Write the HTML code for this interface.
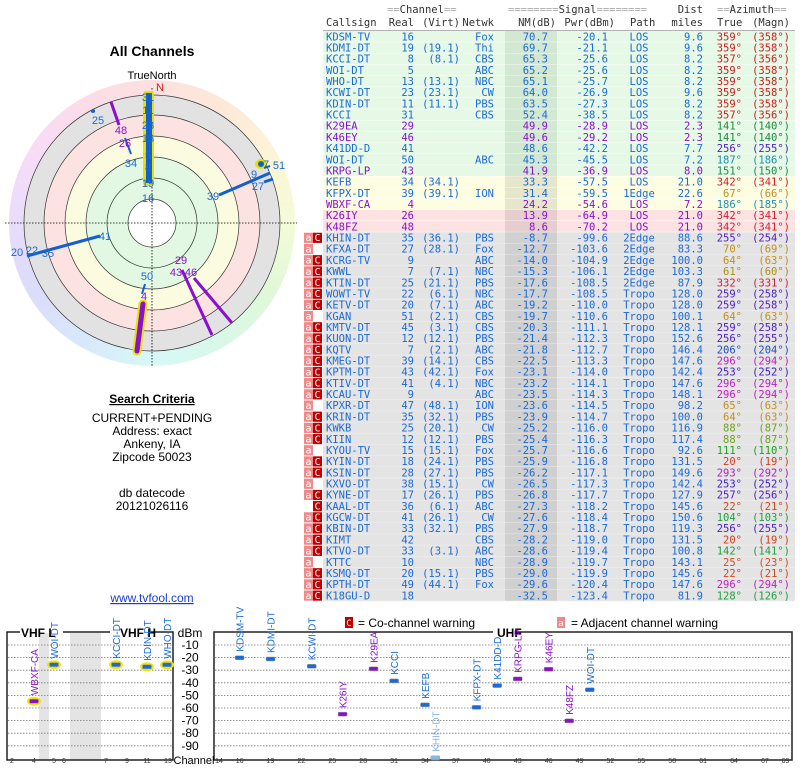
<!DOCTYPE html>
<html><head><meta charset="utf-8">
<style>
html,body{margin:0;padding:0;background:#fff;width:800px;height:768px;overflow:hidden}
#ring{position:absolute;left:9px;top:80px;width:286px;height:286px;border-radius:50%;
background:conic-gradient(#fde0e0,#fde8d8 30deg,#fdf4d8 60deg,#f4fbd8 90deg,#e0f8d8 120deg,#d8f8e8 150deg,#d8f8f8 180deg,#d8e8fb 210deg,#dcdcfb 240deg,#e8dcfb 270deg,#f8dcf8 300deg,#fcdce8 330deg,#fde0e0 360deg)}
svg{position:absolute;left:0;top:0}
</style></head><body>
<div id="ring"></div>
<svg id="s" width="800" height="768" xmlns="http://www.w3.org/2000/svg" font-family="Liberation Sans, sans-serif"></svg>
<script>
var S=[];
function t(x,y,s,o){o=o||{};S.push('<text x="'+x+'" y="'+y+'" font-size="'+(o.fs||11)+'"'+(o.a?' text-anchor="'+o.a+'"':'')+' fill="'+(o.c||'#000')+'"'+(o.fw?' font-weight="bold"':'')+(o.ff?' font-family="'+o.ff+'"':'')+(o.tr?' transform="'+o.tr+'"':'')+(o.td?' text-decoration="underline"':'')+'>'+s+'</text>');}
function r(x,y,w,h,f,ex){S.push('<rect x="'+x+'" y="'+y+'" width="'+w+'" height="'+h+'" fill="'+f+'" '+(ex||'')+'/>');}
function l(x1,y1,x2,y2,c,w,ex){S.push('<line x1="'+x1+'" y1="'+y1+'" x2="'+x2+'" y2="'+y2+'" stroke="'+c+'" stroke-width="'+(w||1)+'" '+(ex||'')+'/>');}
var M='DejaVu Sans Mono, Liberation Mono, monospace';
var B='#1a6ad8',P='#8a10d0';
var azc={359:'#c82020',357:'#c82020',141:'#208a40',256:'#5020c0',255:'#5020c0',187:'#2090b0',186:'#2090b0',151:'#208a50',342:'#d02030',67:'#c09020',70:'#c09020',64:'#c09020',61:'#b09010',65:'#c09020',332:'#d02040',259:'#5020c0',206:'#2050c0',296:'#c020c0',253:'#4020c0',88:'#70a020',111:'#20a020',20:'#d04020',293:'#b020c0',257:'#5020c0',22:'#d04a20',104:'#20a040',142:'#20a040',25:'#d05020',128:'#20a040'};
var rows=[
['KDSM-TV','16','','Fox','70.7','-20.1','LOS','9.6',359,358,0,'g'],
['KDMI-DT','19','(19.1)','Thi','69.7','-21.1','LOS','9.6',359,358,0,'g'],
['KCCI-DT','8','(8.1)','CBS','65.3','-25.6','LOS','8.2',357,356,0,'g'],
['WOI-DT','5','','ABC','65.2','-25.6','LOS','8.2',359,358,0,'g'],
['WHO-DT','13','(13.1)','NBC','65.1','-25.7','LOS','8.2',359,358,0,'g'],
['KCWI-DT','23','(23.1)','CW','64.0','-26.9','LOS','9.6',359,358,0,'g'],
['KDIN-DT','11','(11.1)','PBS','63.5','-27.3','LOS','8.2',359,358,0,'g'],
['KCCI','31','','CBS','52.4','-38.5','LOS','8.2',357,356,0,'g'],
['K29EA','29','','','49.9','-28.9','LOS','2.3',141,140,1,'g'],
['K46EY','46','','','49.6','-29.2','LOS','2.3',141,140,1,'g'],
['K41DD-D','41','','','48.6','-42.2','LOS','7.7',256,255,0,'g'],
['WOI-DT','50','','ABC','45.3','-45.5','LOS','7.2',187,186,0,'g'],
['KRPG-LP','43','','','41.9','-36.9','LOS','8.0',151,150,1,'g'],
['KEFB','34','(34.1)','','33.3','-57.5','LOS','21.0',342,341,0,'y'],
['KFPX-DT','39','(39.1)','ION','31.4','-59.5','1Edge','22.6',67,66,0,'y'],
['WBXF-CA','4','','','24.2','-54.6','LOS','7.2',186,185,1,'y'],
['K26IY','26','','','13.9','-64.9','LOS','21.0',342,341,1,'p'],
['K48FZ','48','','','8.6','-70.2','LOS','21.0',342,341,1,'p'],
['KHIN-DT','35','(36.1)','PBS','-8.7','-99.6','2Edge','88.6',255,254,0,'aC'],
['KFXA-DT','27','(28.1)','Fox','-12.7','-103.6','2Edge','83.3',70,69,0,'a'],
['KCRG-TV','9','','ABC','-14.0','-104.9','2Edge','100.0',64,63,0,'aC'],
['KWWL','7','(7.1)','NBC','-15.3','-106.1','2Edge','103.3',61,60,0,'aC'],
['KTIN-DT','25','(21.1)','PBS','-17.6','-108.5','2Edge','87.9',332,331,0,'aC'],
['WOWT-TV','22','(6.1)','NBC','-17.7','-108.5','Tropo','128.0',259,258,0,'aC'],
['KETV-DT','20','(7.1)','ABC','-19.2','-110.0','Tropo','128.0',259,258,0,'aC'],
['KGAN','51','(2.1)','CBS','-19.7','-110.6','Tropo','100.1',64,63,0,'a'],
['KMTV-DT','45','(3.1)','CBS','-20.3','-111.1','Tropo','128.1',259,258,0,'aC'],
['KUON-DT','12','(12.1)','PBS','-21.4','-112.3','Tropo','152.6',256,255,0,'aC'],
['KQTV','7','(2.1)','ABC','-21.8','-112.7','Tropo','146.4',206,204,0,'aC'],
['KMEG-DT','39','(14.1)','CBS','-22.5','-113.3','Tropo','147.6',296,294,0,'aC'],
['KPTM-DT','43','(42.1)','Fox','-23.1','-114.0','Tropo','142.4',253,252,0,'aC'],
['KTIV-DT','41','(4.1)','NBC','-23.2','-114.1','Tropo','147.6',296,294,0,'aC'],
['KCAU-TV','9','','ABC','-23.5','-114.3','Tropo','148.1',296,294,0,'aC'],
['KPXR-DT','47','(48.1)','ION','-23.6','-114.5','Tropo','98.2',65,63,0,'a'],
['KRIN-DT','35','(32.1)','PBS','-23.9','-114.7','Tropo','100.0',64,63,0,'aC'],
['KWKB','25','(20.1)','CW','-25.2','-116.0','Tropo','116.9',88,87,0,'aC'],
['KIIN','12','(12.1)','PBS','-25.4','-116.3','Tropo','117.4',88,87,0,'aC'],
['KYOU-TV','15','(15.1)','Fox','-25.7','-116.6','Tropo','92.6',111,110,0,'a'],
['KYIN-DT','18','(24.1)','PBS','-25.9','-116.8','Tropo','131.5',20,19,0,'aC'],
['KSIN-DT','28','(27.1)','PBS','-26.2','-117.1','Tropo','149.6',293,292,0,'aC'],
['KXVO-DT','38','(15.1)','CW','-26.5','-117.3','Tropo','142.4',253,252,0,'a'],
['KYNE-DT','17','(26.1)','PBS','-26.8','-117.7','Tropo','127.9',257,256,0,'aC'],
['KAAL-DT','36','(6.1)','ABC','-27.3','-118.2','Tropo','145.6',22,21,0,'C'],
['KGCW-DT','41','(26.1)','CW','-27.6','-118.4','Tropo','150.6',104,103,0,'aC'],
['KBIN-DT','33','(32.1)','PBS','-27.9','-118.7','Tropo','119.3',256,255,0,'aC'],
['KIMT','42','','CBS','-28.2','-119.0','Tropo','131.5',20,19,0,'aC'],
['KTVO-DT','33','(3.1)','ABC','-28.6','-119.4','Tropo','100.8',142,141,0,'aC'],
['KTTC','10','','NBC','-28.9','-119.7','Tropo','143.1',25,23,0,'a'],
['KSMQ-DT','20','(15.1)','PBS','-29.0','-119.9','Tropo','145.6',22,21,0,'aC'],
['KPTH-DT','49','(44.1)','Fox','-29.6','-120.4','Tropo','147.6',296,294,0,'aC'],
['K18GU-D','18','','','-32.5','-123.4','Tropo','81.9',128,126,0,'aC']];
var RH=11.18,Y0=31;
var bgs={g:['#e6f8e6','#d2e8d2'],y:['#fdfde2','#e6e6cc'],p:['#fde2e2','#e6cece']};
rows.forEach(function(d,i){
 var y=Y0+i*RH,bb=d[11],bg=bgs[bb]||['#e4e4e4','#d0d0d0'];
 r(323,y,472,RH,bg[0]); r(505,y,52,RH,bg[1]); l(323,y+RH,795,y+RH,bgs[bb]?'#fff':'#f4f4f4',0.8);
 if(!bgs[bb]){ if(bb.indexOf('a')>=0){r(304,y+0.5,9,RH-1,'#f08a8a');t(308.5,y+9,'a',{fs:10,a:'middle',c:'#fff',ff:M});}
  if(bb.indexOf('C')>=0){r(313,y+0.5,9,RH-1,'#c00000');t(317.5,y+9,'C',{fs:10,a:'middle',c:'#fff',ff:M});}}
 var c=d[10]?P:B,yb=y+9.3,o=function(a){return {fs:10.5,ff:M,c:c,a:a};};
 t(326,yb,d[0],o());t(414,yb,d[1],o('end'));t(460,yb,d[2],o('end'));t(494,yb,d[3],o('end'));
 t(548,yb,d[4],o('end'));t(608,yb,d[5],o('end'));t(639,yb,d[6],o('middle'));t(703,yb,d[7],o('end'));
 var ac=azc[d[8]]||'#c82020';
 t(742,yb,d[8]+'°',{fs:10.5,ff:M,c:ac,a:'end'});t(790,yb,'('+d[9]+'°)',{fs:10.5,ff:M,c:ac,a:'end'});
});
// header
var H={fs:10.5,ff:M,c:'#333'};
S.push('<text x="387" y="13" font-size="10.5" font-family="'+M+'" fill="#333"><tspan fill="#aaa">==</tspan>Channel<tspan fill="#aaa">==</tspan></text>');
S.push('<text x="508" y="13" font-size="10.5" font-family="'+M+'" fill="#333"><tspan fill="#aaa">========</tspan>Signal<tspan fill="#aaa">========</tspan></text>');
t(703,13,'Dist',{fs:10.5,ff:M,c:'#333',a:'end'});
S.push('<text x="717" y="13" font-size="10.5" font-family="'+M+'" fill="#333"><tspan fill="#aaa">==</tspan>Azimuth<tspan fill="#aaa">==</tspan></text>');
t(326,26,'Callsign',H);t(414,26,'Real',{fs:10.5,ff:M,c:'#333',a:'end'});t(460,26,'(Virt)',{fs:10.5,ff:M,c:'#333',a:'end'});
t(494,26,'Netwk',{fs:10.5,ff:M,c:'#333',a:'end'});t(556,26,'NM(dB)',{fs:10.5,ff:M,c:'#333',a:'end'});
t(615,26,'Pwr(dBm)',{fs:10.5,ff:M,c:'#333',a:'end'});t(630,26,'Path',H);t(703,26,'miles',{fs:10.5,ff:M,c:'#333',a:'end'});
t(717,26,'True',H);t(790,26,'(Magn)',{fs:10.5,ff:M,c:'#333',a:'end'});
l(323,30.5,795,30.5,'#999',0.8);
// left panel
t(152,56,'All Channels',{fs:14,fw:1,a:'middle'});
t(152,79,'TrueNorth',{fs:11,a:'middle'});
var cx=152,cy=223;
S.push('<circle cx="'+cx+'" cy="'+cy+'" r="128" fill="#e2e2e2"/>');
S.push('<circle cx="'+cx+'" cy="'+cy+'" r="108" fill="#fde2e2"/>');
S.push('<circle cx="'+cx+'" cy="'+cy+'" r="87" fill="#fbfbe0"/>');
S.push('<circle cx="'+cx+'" cy="'+cy+'" r="66" fill="#e2f8e2"/>');
S.push('<circle cx="'+cx+'" cy="'+cy+'" r="24" fill="#fff"/>');
[24,45,66,87,108,128].forEach(function(rr){S.push('<circle cx="'+cx+'" cy="'+cy+'" r="'+rr+'" fill="none" stroke="#333" stroke-width="0.7"/>');});
l(5,cy,297,cy,'#000',0.8,'stroke-dasharray="1.5,1.5"');l(cx,88,cx,366,'#000',0.8,'stroke-dasharray="1.5,1.5"');
t(156,91,'N',{fs:11,c:'#d02020'});
// north bar
S.push('<rect x="143" y="91" width="11" height="95" rx="3" fill="#e8e000"/>');
r(146,93,6,90,'#1060d0');
var lb={fs:11,c:B,a:'middle'};
[['31',101],['11',114],['23',129],['13',142],['5',159],['8',171],['19',187],['16',202]].forEach(function(a){t(148,a[1],a[0],{fs:11,c:B,a:'middle'});});
// 25 etc
S.push('<circle cx="93" cy="111" r="2" fill="#1060d0"/>');t(98,124,'25',lb);
l(111,102,119,125,P,3);t(121,134,'48',{fs:11,c:P,a:'middle'});
l(125,138,131,154,'#1060d0',2);t(125,147,'26',{fs:11,c:P,a:'middle'});t(131,167,'34',lb);
// east
S.push('<ellipse cx="261" cy="164" rx="6" ry="5" fill="#e8e000"/>');S.push('<circle cx="261" cy="164" r="3" fill="#1060d0"/>');
t(266,168,'7',lb);t(279,169,'51',lb);t(254,178,'9',lb);
l(219,195,270,173,'#1060d0',3);l(264,168,270,166,'#1060d0',2);t(213,200,'39',lb);
l(264,182,273,179,'#1060d0',3);t(258,190,'27',lb);
// west
l(27,256,100,236,'#1060d0',3);t(17,256,'20',lb);t(32,254,'22',lb);t(48,257,'35',lb);t(105,240,'41',lb);
// south
l(145,284,142,294,'#1060d0',2);t(147,280,'50',lb);
S.push('<line x1="143" y1="304" x2="137" y2="351" stroke="#e8e000" stroke-width="9" stroke-linecap="round"/>');
l(143,304,137,351,P,5,'stroke-linecap="round"');t(144,300,'4',{fs:11,c:P,a:'middle'});
l(182,270,212,335,P,3);l(194,278,232,323,P,3);
t(181,264,'29',{fs:11,c:P,a:'middle'});t(176,276,'43',{fs:11,c:P,a:'middle'});t(191,276,'46',{fs:11,c:P,a:'middle'});
t(152,403,'Search Criteria',{fs:12,fw:1,a:'middle',td:1});
t(152,422,'CURRENT+PENDING',{fs:12,a:'middle'});t(152,435,'Address: exact',{fs:12,a:'middle'});
t(152,448,'Ankeny, IA',{fs:12,a:'middle'});t(152,461,'Zipcode 50023',{fs:12,a:'middle'});
t(152,497,'db datecode',{fs:12,a:'middle'});t(152,510,'20121026116',{fs:12,a:'middle'});
t(152,602,'www.tvfool.com',{fs:12,a:'middle',c:'#1a3cd8',td:1});
// legend
r(345,617,8,11,'#c00000');t(349,626,'C',{fs:9,c:'#fff',a:'middle',ff:M});t(358,627,'= Co-channel warning',{fs:12});
r(557,617,8,11,'#f08a8a');t(561,626,'a',{fs:9,c:'#fff',a:'middle',ff:M});t(571,627,'= Adjacent channel warning',{fs:12});
// bottom chart
function Y(db){return 632.4-db*1.26;}
r(39,633,10,127,'#e4e4e4');r(70,633,31,127,'#e4e4e4');
for(var k=1;k<=9;k++){var yy=Y(-10*k);l(8,yy,172,yy,'#777',0.8,'stroke-dasharray="1.5,1.5"');l(215,yy,791,yy,'#777',0.8,'stroke-dasharray="1.5,1.5"');}
S.push('<path d="M20,632 H7 V760 H173 V632 H150 M110,632 H63" fill="none" stroke="#222" stroke-width="1.5"/>');
S.push('<path d="M493,632 H214 V760 H792 V632 H517" fill="none" stroke="#222" stroke-width="1.5"/>');
t(21,637,'VHF L',{fs:12,fw:1});t(120,637,'VHF H',{fs:12,fw:1});t(497,637,'UHF',{fs:12,fw:1});
t(190,637,'dBm',{fs:12,a:'middle'});
for(k=1;k<=9;k++)t(190,Y(-10*k)+4,'-'+(k*10),{fs:12,a:'middle'});
t(194,764,'Channel',{fs:11,a:'middle'});
// ticks labels
[[2,12],[4,34],[5,54],[6,64],[7,106],[9,127],[11,147],[13,168]].forEach(function(a){t(a[1],763,a[0],{fs:7,a:'middle',c:'#333'});});
function UX(ch){return 219+(ch-14)*10.3;}
[14,16,19,22,25,28,31,34,37,40,43,46,49,52,55,58,61,64,67,69].forEach(function(c){t(UX(c),763,c,{fs:7,a:'middle',c:'#333'});});
function bar(x,db,c,name,hl,fade){var y=Y(db);
 if(hl)S.push('<ellipse cx="'+x+'" cy="'+y+'" rx="7" ry="4.5" fill="#f0e800"/>');
 S.push('<rect x="'+(x-4.5)+'" y="'+(y-2)+'" width="9" height="4" rx="1" fill="'+c+'" stroke="#999" stroke-width="0.5"/>');
 t(x+4,y-6,name,{fs:10,c:c,tr:'rotate(-90 '+(x+4)+' '+(y-6)+')'});}
bar(34,-54.6,P,'WBXF-CA',1);bar(54,-25.6,B,'WOI-DT',1);bar(116,-25.6,B,'KCCI-DT',1);bar(147,-27.3,B,'KDIN-DT',1);bar(167,-25.7,B,'WHO-DT',1);
[[16,-20.1,B,'KDSM-TV'],[19,-21.1,B,'KDMI-DT'],[23,-26.9,B,'KCWI-DT'],[26,-64.9,P,'K26IY'],[29,-28.9,P,'K29EA'],[31,-38.5,B,'KCCI'],[34,-57.5,B,'KEFB'],[35,-99.6,'#8ab4e8','KHIN-DT'],[39,-59.5,B,'KFPX-DT'],[41,-42.2,B,'K41DD-D'],[43,-36.9,P,'KRPG-LP'],[46,-29.2,P,'K46EY'],[48,-70.2,P,'K48FZ'],[50,-45.5,B,'WOI-DT']].forEach(function(a){bar(UX(a[0]),a[1],a[2],a[3]);});
document.getElementById('s').innerHTML=S.join('');
</script>
</body></html>
